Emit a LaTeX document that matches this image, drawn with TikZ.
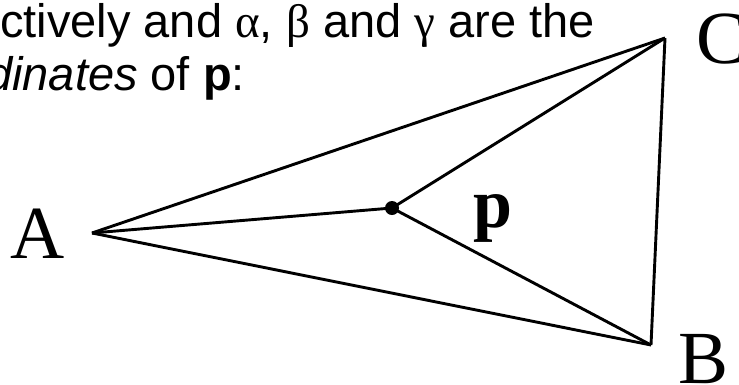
\documentclass[tikz,border=0pt]{standalone}
\usepackage{fontspec}
\setmainfont{Liberation Sans}
\newfontfamily\serifface{Liberation Serif}

\begin{document}
\begin{tikzpicture}[x=1pt, y=-1pt]
    % --- 参数定义 ---
    \def\W{739}       % 画布宽
    \def\H{384}       % 画布高
    \tikzset{
        edge/.style={line width=2.9pt},
        vlabel/.style={font=\fontsize{75}{75}\selectfont\serifface, inner sep=0pt, anchor=base},
        textline/.style={font=\fontsize{47}{54}\selectfont, inner sep=0pt, anchor=base west}
    }
    \useasboundingbox (0,0) rectangle (\W,\H);

    % --- 1. 上方文字 ---
    \node[textline] (line1) at (0,37) {ctively and {\serifface α}, {\serifface β} and {\serifface γ} are the};
    \node[textline] (line2) at (-14,90) {\textit{dinates} of \textbf{p}:};

    % --- 2. 顶点与内点 ---
    \coordinate (A) at (92,233);
    \coordinate (B) at (651,345);
    \coordinate (C) at (665,38);
    \node[circle, fill, inner sep=0pt, minimum size=14pt] (p) at (392,208) {};

    % --- 3. 三角形与连线 ---
    \draw[edge] (A) -- (C);
    \draw[edge] (A) -- (B);
    \draw[edge] (B) -- (C);
    \draw[edge] (A) -- (p.center);
    \draw[edge] (p.center) -- (C);
    \draw[edge] (p.center) -- (B);

    % --- 4. 标注 ---
    \node[vlabel] (lblA) at (38,258) {A};
    \node[vlabel] (lblB) at (704,383) {B};
    \node[vlabel, anchor=base west] (lblC) at (696,63) {C};
    \node[vlabel, font=\fontsize{70}{70}\selectfont\serifface\bfseries] (lblp) at (493,227) {p};

\end{tikzpicture}
\end{document}
